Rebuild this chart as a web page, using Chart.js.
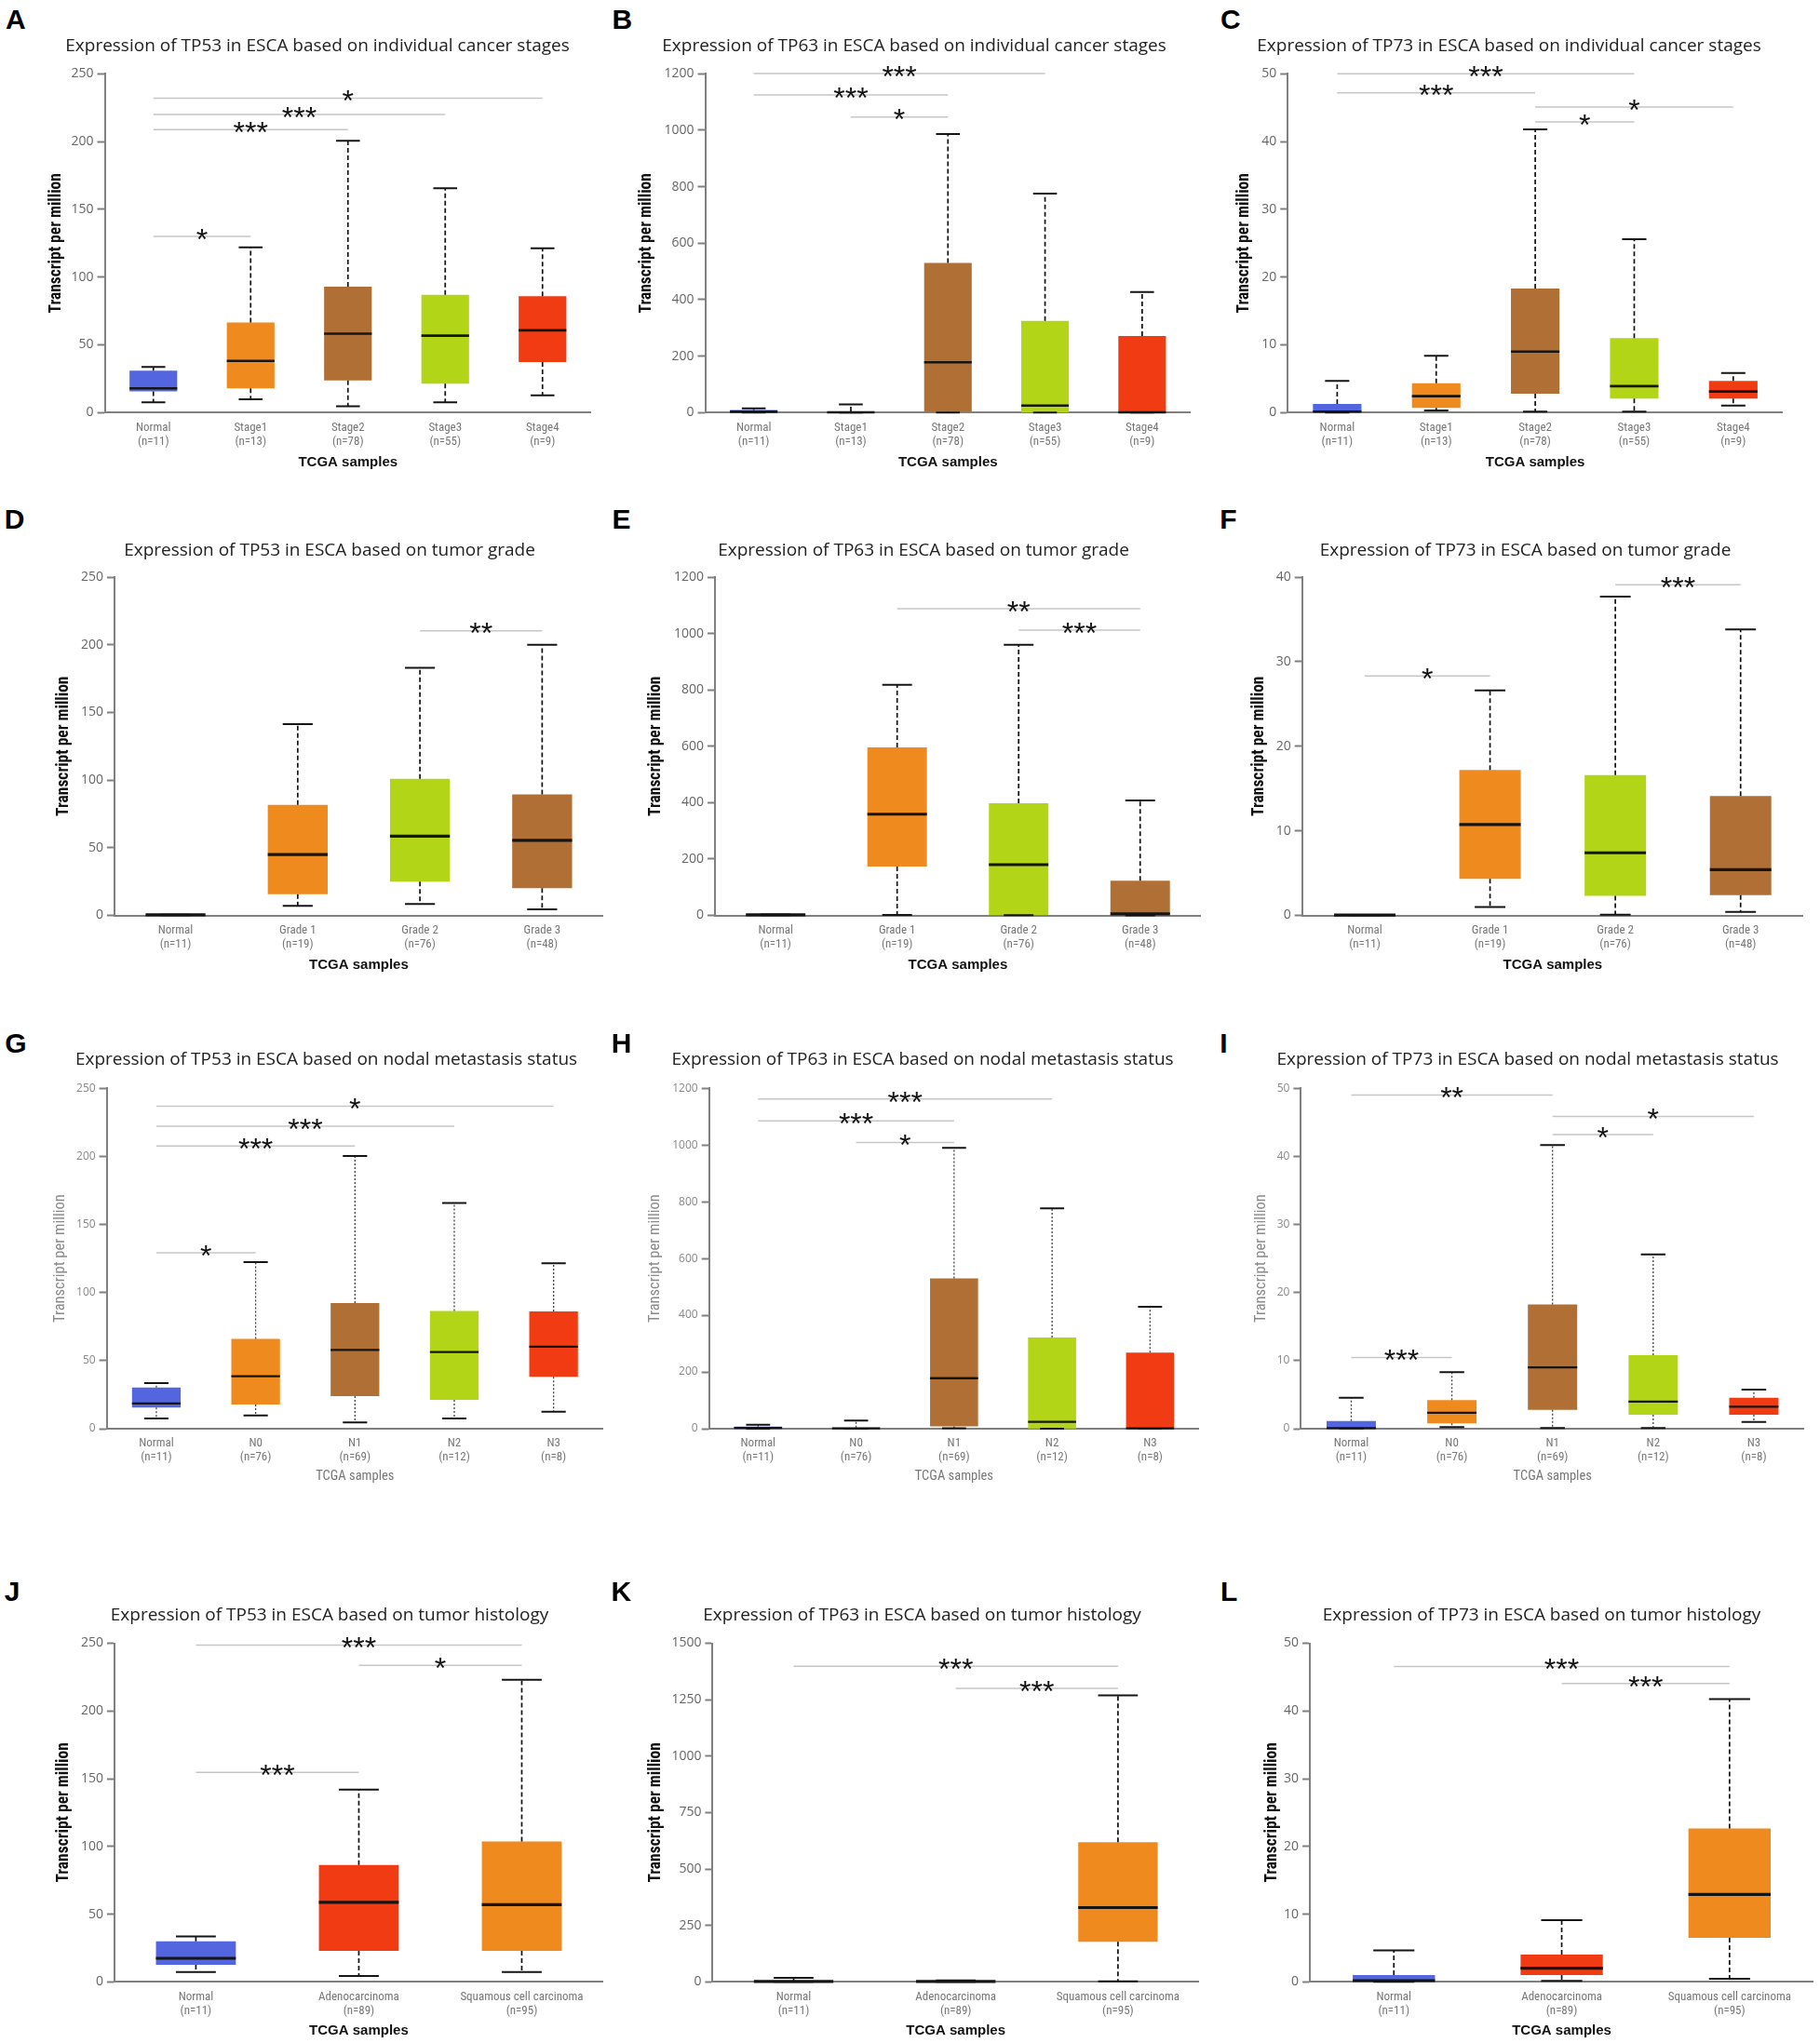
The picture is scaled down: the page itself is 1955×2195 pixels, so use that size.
<!DOCTYPE html>
<html>
<head>
<meta charset="utf-8">
<title>Expression of TP53, TP63 and TP73 in ESCA</title>
<script src="https://cdn.jsdelivr.net/npm/chart.js@4.4.1/dist/chart.umd.min.js"></script>
<style>
  html, body { margin: 0; padding: 0; background: #fff; }
  #figure { position: relative; width: 1955px; height: 2195px; overflow: hidden; background: #fff; }
  #figure canvas { position: absolute; }
  .letter { position: absolute; font: bold 30px 'Liberation Sans', Arial, sans-serif; line-height: 30px; color: #000; }
</style>
</head>
<body>
<div id="figure"></div>
<script>
// ---- categories ----
const stageLabels = [['Normal', '(n=11)'], ['Stage1', '(n=13)'], ['Stage2', '(n=78)'], ['Stage3', '(n=55)'], ['Stage4', '(n=9)']];
const gradeLabels = [['Normal', '(n=11)'], ['Grade 1', '(n=19)'], ['Grade 2', '(n=76)'], ['Grade 3', '(n=48)']];
const nodalLabels = [['Normal', '(n=11)'], ['N0', '(n=76)'], ['N1', '(n=69)'], ['N2', '(n=12)'], ['N3', '(n=8)']];
const histologyLabels = [['Normal', '(n=11)'], ['Adenocarcinoma', '(n=89)'], ['Squamous cell carcinoma', '(n=95)']];

// ---- y tick values ----
const tp53Ticks = [0, 50, 100, 150, 200, 250];
const tp63Ticks = [0, 200, 400, 600, 800, 1000, 1200];
const tp63HistTicks = [0, 250, 500, 750, 1000, 1250, 1500];
const tp73Ticks = [0, 10, 20, 30, 40, 50];
const tp73GradeTicks = [0, 10, 20, 30, 40];

// ---- box statistics: [min, q1, median, q3, max] per category ----
const tp53Stage = [[7.6, 15.6, 17.9, 30.9, 33.7], [9.8, 17.9, 38.2, 66.4, 122], [4.6, 23.8, 58.2, 93, 200.5], [7.6, 21.3, 56.8, 87, 165.5], [12.8, 37.3, 60.7, 85.9, 121.3]];
const tp63Stage = [[0.3, 1, 3, 9, 15], [0.2, 0.5, 1, 4, 28.6], [0.5, 3, 178, 530, 987], [0.2, 1, 25, 325, 776], [0.1, 0.3, 0.8, 271, 427]];
const tp73Stage = [[0.02, 0.05, 0.14, 1.28, 4.67], [0.32, 0.69, 2.43, 4.35, 8.38], [0.14, 2.8, 9.0, 18.3, 41.8], [0.14, 2.06, 3.9, 11.0, 25.6], [1.05, 2.06, 3.11, 4.67, 5.86]];

const tp53Grade = [[0.2, 0.3, 0.4, 0.5, 0.6], [7.1, 15.6, 45, 81.7, 141.3], [8.5, 25, 58.5, 101, 183], [4.4, 20.2, 55.5, 89.4, 200]];
const tp63Grade = [[1, 1.5, 2, 2.5, 3], [2, 173.6, 359, 595.6, 817.6], [0.5, 2, 180, 398, 960], [0.3, 2, 5.5, 123, 407.7]];
const tp73Grade = [[0.02, 0.03, 0.04, 0.05, 0.06], [1.0, 4.33, 10.75, 17.2, 26.6], [0.07, 2.3, 7.4, 16.6, 37.7], [0.4, 2.4, 5.4, 14.1, 33.8]];

const tp53Nodal = [[7.5, 15.5, 18.5, 30.3, 33.5], [9.8, 17.8, 38.5, 66, 122.4], [4.6, 23.9, 57.9, 92.3, 200.3], [7.5, 21.2, 56.3, 86.4, 165.7], [12.5, 38.1, 60.2, 86.1, 121.5]];
const tp63Nodal = [[0.3, 1, 3, 7.7, 14], [0.2, 0.5, 1, 4, 28.4], [2, 8, 178, 529.5, 990], [0.2, 1, 24, 321.6, 777], [0.1, 0.3, 1, 268, 430]];
const tp73Nodal = [[0.02, 0.05, 0.09, 1.14, 4.56], [0.23, 0.78, 2.33, 4.2, 8.3], [0.09, 2.78, 9.0, 18.25, 41.65], [0.09, 2.05, 3.97, 10.8, 25.6], [1.0, 2.05, 3.24, 4.56, 5.75]];

const tp53Histology = [[7.3, 12.6, 17.4, 30, 33.5], [4.35, 22.9, 58.7, 86.2, 142], [7.3, 22.9, 57, 103.6, 223]];
const tp63Histology = [[0.5, 1, 2, 4, 17.8], [0.3, 1, 2, 4, 6.9], [2.7, 177, 329, 619, 1269]];
const tp73Histology = [[0.02, 0.05, 0.18, 1.0, 4.63], [0.14, 1.0, 2.02, 4.03, 9.12], [0.46, 6.5, 12.92, 22.64, 41.75]];

// ---- significance bars: [from category, to category, height, stars] ----
const tp53StageSig = [[0, 1, 130, '*'], [0, 2, 208.8, '***'], [0, 3, 220, '***'], [0, 4, 232, '*']];
const tp63StageSig = [[1, 2, 1047, '*'], [0, 2, 1125, '***'], [0, 3, 1201, '***']];
const tp73StageSig = [[0, 3, 50, '***'], [0, 2, 47.2, '***'], [2, 4, 45.1, '*'], [2, 3, 42.9, '*']];
const tp53GradeSig = [[2, 3, 210.3, '**']];
const tp63GradeSig = [[1, 3, 1088, '**'], [2, 3, 1012, '***']];
const tp73GradeSig = [[0, 1, 28.3, '*'], [2, 3, 39.1, '***']];
const tp53NodalSig = [[0, 1, 129.2, '*'], [0, 2, 207.6, '***'], [0, 3, 222.2, '***'], [0, 4, 236.8, '*']];
const tp63NodalSig = [[1, 2, 1008.7, '*'], [0, 2, 1085, '***'], [0, 3, 1162, '***']];
const tp73NodalSig = [[0, 2, 49, '**'], [2, 4, 45.85, '*'], [2, 3, 43.2, '*'], [0, 1, 10.45, '***']];
const tp53HistologySig = [[0, 1, 154.7, '***'], [0, 2, 248.6, '***'], [1, 2, 233.7, '*']];
const tp63HistologySig = [[0, 2, 1398, '***'], [1, 2, 1299.6, '***']];
const tp73HistologySig = [[0, 2, 46.56, '***'], [1, 2, 44.04, '***']];

// ---- colours ----
const BLUE = '#5366e0', ORANGE = '#ef8a1f', BROWN = '#b06f35', LIME = '#b3d517', RED = '#f13c13';
const stageColors = [BLUE, ORANGE, BROWN, LIME, RED];
const gradeColors = [BLUE, ORANGE, LIME, BROWN];
const nodalColors = [BLUE, ORANGE, BROWN, LIME, RED];
const histologyColors = [BLUE, RED, ORANGE];

const HUMANIST = "'Open Sans', 'Noto Sans', sans-serif";
const NARROW = "'Roboto Condensed', 'Open Sans Condensed', sans-serif";
const SANS = "'Liberation Sans', Arial, sans-serif";

// text and line looks
const solidLook = {
  tickFont: { family: HUMANIST, size: 14 }, tickColor: '#666',
  yTitleFont: { family: NARROW, size: 17.5, weight: 'bold' }, yTitleColor: '#111',
  xTitleFont: { family: SANS, size: 15, weight: 'bold' }, xTitleColor: '#111',
  whiskerDash: [5, 3], whiskerWidth: 1.7, whiskerColor: '#111', medianWidth: 2.6
};
const gradeLook = Object.assign({}, solidLook, { medianWidth: 3.2 });
const lightLook = {
  tickFont: { family: HUMANIST, size: 12 }, tickColor: '#888',
  yTitleFont: { family: NARROW, size: 16.5, weight: 'normal' }, yTitleColor: '#8a8a8a',
  xTitleFont: { family: NARROW, size: 14.5, weight: 'normal' }, xTitleColor: '#777',
  whiskerDash: [2, 2], whiskerWidth: 1.3, whiskerColor: '#444', medianWidth: 2.3
};
const histLook = Object.assign({}, solidLook, { medianWidth: 3.2 });

// rows of the figure (page pixels)
const rows = [
  { titleY: 49, top: 79.3, bottom: 443.3, xTitleY: 496.7, letterY: 10, look: solidLook },
  { titleY: 591, top: 620, bottom: 983.5, xTitleY: 1036.7, letterY: 547, look: gradeLook },
  { titleY: 1138, top: 1169.2, bottom: 1535, xTitleY: 1586.7, letterY: 1110, look: lightLook },
  { titleY: 1735, top: 1765.5, bottom: 2129.3, xTitleY: 2181.7, letterY: 1699, look: histLook }
];

const panels = [
  { letter: 'A', letterX: 7.5, row: 0, titleX: 341.3, left: 112.5, right: 635.4, yTitleX: 60.4, title: 'Expression of TP53 in ESCA based on individual cancer stages', labels: stageLabels, colors: stageColors, stats: tp53Stage, sig: tp53StageSig, ticks: tp53Ticks },
  { letter: 'B', letterX: 659, row: 0, titleX: 981.9, left: 757.5, right: 1279.2, yTitleX: 695, title: 'Expression of TP63 in ESCA based on individual cancer stages', labels: stageLabels, colors: stageColors, stats: tp63Stage, sig: tp63StageSig, ticks: tp63Ticks },
  { letter: 'C', letterX: 1312.6, row: 0, titleX: 1620.9, left: 1383.2, right: 1915.3, yTitleX: 1337, title: 'Expression of TP73 in ESCA based on individual cancer stages', labels: stageLabels, colors: stageColors, stats: tp73Stage, sig: tp73StageSig, ticks: tp73Ticks },
  { letter: 'D', letterX: 6.3, row: 1, titleX: 354.2, left: 122.9, right: 648, yTitleX: 68.8, title: 'Expression of TP53 in ESCA based on tumor grade', labels: gradeLabels, colors: gradeColors, stats: tp53Grade, sig: tp53GradeSig, ticks: tp53Ticks },
  { letter: 'E', letterX: 659, row: 1, titleX: 991.7, left: 767.9, right: 1289.6, yTitleX: 705, title: 'Expression of TP63 in ESCA based on tumor grade', labels: gradeLabels, colors: gradeColors, stats: tp63Grade, sig: tp63GradeSig, ticks: tp63Ticks },
  { letter: 'F', letterX: 1311.8, row: 1, titleX: 1638.7, left: 1398.7, right: 1937, yTitleX: 1352.5, title: 'Expression of TP73 in ESCA based on tumor grade', labels: gradeLabels, colors: gradeColors, stats: tp73Grade, sig: tp73GradeSig, ticks: tp73GradeTicks },
  { letter: 'G', letterX: 6.7, row: 2, titleX: 350.6, left: 114.6, right: 648, yTitleX: 64.6, title: 'Expression of TP53 in ESCA based on nodal metastasis status', labels: nodalLabels, colors: nodalColors, stats: tp53Nodal, sig: tp53NodalSig, ticks: tp53Ticks },
  { letter: 'H', letterX: 658.3, row: 2, titleX: 990.6, left: 761.7, right: 1287.5, yTitleX: 704.2, title: 'Expression of TP63 in ESCA based on nodal metastasis status', labels: nodalLabels, colors: nodalColors, stats: tp63Nodal, sig: tp63NodalSig, ticks: tp63Ticks },
  { letter: 'I', letterX: 1311.8, row: 2, titleX: 1641.2, left: 1397.4, right: 1938.4, yTitleX: 1354.6, title: 'Expression of TP73 in ESCA based on nodal metastasis status', labels: nodalLabels, colors: nodalColors, stats: tp73Nodal, sig: tp73NodalSig, ticks: tp73Ticks },
  { letter: 'J', letterX: 6.3, row: 3, titleX: 354.2, left: 122.9, right: 648, yTitleX: 68.8, title: 'Expression of TP53 in ESCA based on tumor histology', labels: histologyLabels, colors: histologyColors, stats: tp53Histology, sig: tp53HistologySig, ticks: tp53Ticks },
  { letter: 'K', letterX: 658, row: 3, titleX: 990.2, left: 765.4, right: 1287.5, yTitleX: 704.2, title: 'Expression of TP63 in ESCA based on tumor histology', labels: histologyLabels, colors: histologyColors, stats: tp63Histology, sig: tp63HistologySig, ticks: tp63HistTicks },
  { letter: 'L', letterX: 1312.6, row: 3, titleX: 1656.2, left: 1407.1, right: 1948, yTitleX: 1366.5, title: 'Expression of TP73 in ESCA based on tumor histology', labels: histologyLabels, colors: histologyColors, stats: tp73Histology, sig: tp73HistologySig, ticks: tp73Ticks }
];

const TITLE_SIZE = 19;
const TITLE_LH = TITLE_SIZE * 1.2;
const STAR_SIZE = 32;
const EDGE = 16; // spare room left of each y axis box

// whiskers, caps, medians and significance bars on top of the floating bars
function boxPlugin(stats, sig, look) {
  return {
    id: 'boxWhiskers',
    afterDatasetsDraw(chart) {
      const ctx = chart.ctx;
      const xs = chart.scales.x;
      const ys = chart.scales.y;
      const bars = chart.getDatasetMeta(0).data;
      ctx.save();
      stats.forEach((s, i) => {
        const [lo, q1, med, q3, hi] = s;
        const cx = bars[i].x;
        const half = bars[i].width / 2;
        ctx.strokeStyle = look.whiskerColor;
        ctx.lineWidth = look.whiskerWidth;
        ctx.setLineDash(look.whiskerDash);
        ctx.beginPath();
        ctx.moveTo(cx, ys.getPixelForValue(q3));
        ctx.lineTo(cx, ys.getPixelForValue(hi));
        ctx.moveTo(cx, ys.getPixelForValue(q1));
        ctx.lineTo(cx, ys.getPixelForValue(lo));
        ctx.stroke();
        ctx.setLineDash([]);
        ctx.strokeStyle = '#151515';
        ctx.lineWidth = 2;
        ctx.beginPath();
        [lo, hi].forEach(v => {
          const py = ys.getPixelForValue(v);
          ctx.moveTo(cx - half / 2, py);
          ctx.lineTo(cx + half / 2, py);
        });
        ctx.stroke();
        ctx.lineWidth = look.medianWidth;
        ctx.beginPath();
        const my = ys.getPixelForValue(med);
        ctx.moveTo(cx - half, my);
        ctx.lineTo(cx + half, my);
        ctx.stroke();
      });
      ctx.font = STAR_SIZE + 'px ' + SANS;
      ctx.textAlign = 'center';
      ctx.textBaseline = 'alphabetic';
      sig.forEach(([a, b, v, stars]) => {
        const x1 = xs.getPixelForValue(a);
        const x2 = xs.getPixelForValue(b);
        const py = ys.getPixelForValue(v);
        ctx.strokeStyle = '#c6c6c6';
        ctx.lineWidth = 1.5;
        ctx.beginPath();
        ctx.moveTo(x1, py);
        ctx.lineTo(x2, py);
        ctx.stroke();
        ctx.fillStyle = '#111';
        ctx.fillText(stars, (x1 + x2) / 2, py + STAR_SIZE * 0.43);
      });
      ctx.restore();
    }
  };
}

function createBoxChart(p, figure) {
  const row = rows[p.row];
  const look = row.look;
  const xTitleLH = look.xTitleFont.size * 1.2;
  const yTitleLH = look.yTitleFont.size * 1.2;
  // the title box starts here, so the title is centred on titleX
  const boxLeft = Math.round(2 * p.titleX - p.right);
  const canvasLeft = boxLeft - EDGE;
  const canvasTop = Math.round(row.titleY - TITLE_LH / 2);
  const width = Math.round(p.right - canvasLeft);
  const height = Math.round(row.xTitleY + xTitleLH / 2 - canvasTop);
  const yWidth = p.left - boxLeft;
  const xHeight = canvasTop + height - row.bottom;
  const titleGap = row.top - canvasTop - TITLE_LH;
  const yTitlePad = p.yTitleX - boxLeft - yTitleLH / 2;

  const canvas = document.createElement('canvas');
  canvas.width = width;
  canvas.height = height;
  canvas.style.left = canvasLeft + 'px';
  canvas.style.top = canvasTop + 'px';
  canvas.style.width = width + 'px';
  canvas.style.height = height + 'px';
  figure.appendChild(canvas);

  const ticks = p.ticks;
  return new Chart(canvas.getContext('2d'), {
    type: 'bar',
    data: {
      labels: p.labels,
      datasets: [{
        data: p.stats.map(s => [s[1], s[3]]),
        backgroundColor: p.colors,
        borderWidth: 0,
        barPercentage: 0.49,
        categoryPercentage: 1
      }]
    },
    options: {
      responsive: false,
      animation: false,
      devicePixelRatio: 1,
      layout: { padding: { left: EDGE, right: 0, top: 0, bottom: 0 } },
      plugins: {
        legend: { display: false },
        tooltip: { enabled: false },
        title: {
          display: true,
          text: p.title,
          color: '#222',
          font: { family: HUMANIST, size: TITLE_SIZE, weight: 'normal', lineHeight: 1.2 },
          padding: { top: 0, bottom: titleGap }
        }
      },
      scales: {
        x: {
          grid: { display: false, drawTicks: false },
          border: { display: true, color: '#808080', width: 2 },
          ticks: {
            color: '#777',
            font: { family: NARROW, size: 13, lineHeight: '15px' },
            padding: 8.5,
            maxRotation: 0,
            autoSkip: false
          },
          title: {
            display: true,
            text: 'TCGA samples',
            color: look.xTitleColor,
            font: look.xTitleFont,
            padding: { top: 0, bottom: 0 }
          },
          afterFit: scale => { scale.height = xHeight; }
        },
        y: {
          min: ticks[0],
          max: ticks[ticks.length - 1],
          afterBuildTicks: scale => { scale.ticks = ticks.map(v => ({ value: v })); },
          grid: { drawOnChartArea: false, drawTicks: true, tickLength: 8, tickColor: '#808080', tickWidth: 2 },
          border: { display: true, color: '#808080', width: 2 },
          ticks: {
            color: look.tickColor,
            font: look.tickFont,
            padding: 4,
            callback: v => String(v)
          },
          title: {
            display: true,
            text: 'Transcript per million',
            color: look.yTitleColor,
            font: look.yTitleFont,
            padding: { top: yTitlePad, bottom: 0 }
          },
          afterFit: scale => { scale.width = yWidth; }
        }
      }
    },
    plugins: [boxPlugin(p.stats, p.sig, look)]
  });
}

function addLetter(p, figure) {
  const div = document.createElement('div');
  div.className = 'letter';
  div.textContent = p.letter;
  div.style.left = (p.letterX - 1.5) + 'px';
  div.style.top = (rows[p.row].letterY - 4) + 'px';
  figure.appendChild(div);
}

const figure = document.getElementById('figure');
panels.forEach(p => {
  createBoxChart(p, figure);
  addLetter(p, figure);
});
</script>
</body>
</html>
